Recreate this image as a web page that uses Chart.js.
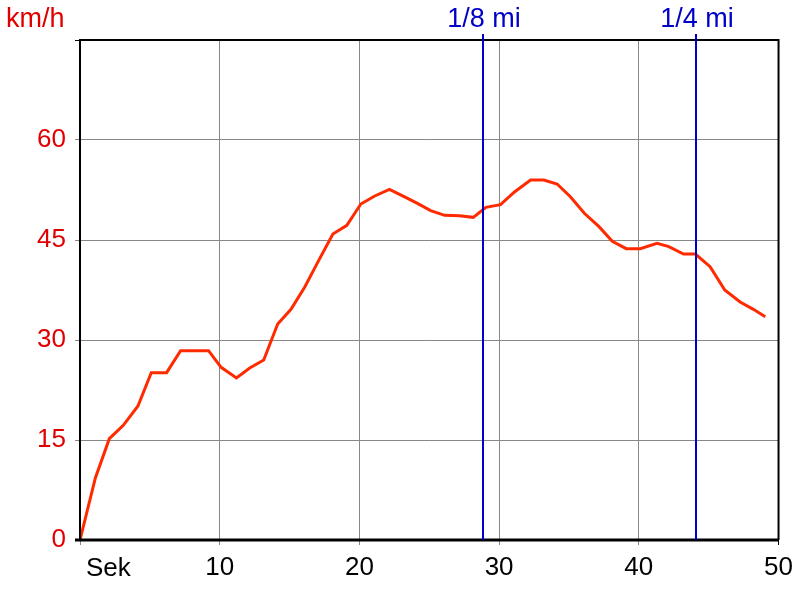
<!DOCTYPE html>
<html>
<head>
<meta charset="utf-8">
<script src="https://cdn.jsdelivr.net/npm/chart.js@4.4.0/dist/chart.umd.min.js"></script>
<style>
    html, body { margin: 0; padding: 0; background: #fff; }
    #wrap { width: 800px; height: 600px; }
</style>
</head>
<body>
<div id="wrap"><canvas id="myChart" width="800" height="600"></canvas></div>
<script>
// 時間 (秒) 與速度 (km/h)
var times = [0, 1.1, 2.1, 3.1, 4.15, 5.1, 6.2, 7.2, 8.2, 9.2,
    10.1, 11.2, 12.15, 13.15, 14.15, 15.1, 16.1, 17.05, 18.1, 19.1,
    20.1, 21.1, 22.15, 23.2, 24.15, 25.1, 26.1, 27.15, 28.15, 29.05,
    30.1, 31.1, 32.25, 33.2, 34.15, 35.1, 36.1, 37.15, 38.1, 39.1,
    40.1, 41.3, 42.15, 43.2, 44.05, 45.1, 46.15, 47.25, 48.2, 49.05];
var speeds = [0, 9.3, 15.2, 17.2, 20.1, 25.1, 25.1, 28.4, 28.4, 28.4,
    25.9, 24.3, 25.8, 27.0, 32.4, 34.6, 38.0, 41.8, 45.9, 47.2,
    50.4, 51.6, 52.6, 51.5, 50.5, 49.4, 48.7, 48.65, 48.4, 49.9,
    50.3, 52.2, 54.0, 54.0, 53.4, 51.5, 49.0, 47.0, 44.8, 43.7,
    43.7, 44.5, 44.0, 42.9, 42.9, 41.0, 37.5, 35.7, 34.6, 33.5];

// 距離標記
var mileTimes = [28.85, 44.07];
var mileLabels = ['1/8 mi', '1/4 mi'];

var xTicks = [0, 10, 20, 30, 40, 50];
var yTicks = [0, 15, 30, 45, 60, 75];
var yUnit = 'km/h';
var xUnit = 'Sek';

var FONT = '"Liberation Sans", Arial, sans-serif';

var points = times.map((t, i) => ({ x: t, y: speeds[i] }));

var overlay = {
    id: 'overlay',
    afterDatasetsDraw: function (chart) {
        var c = chart.ctx, a = chart.chartArea, xs = chart.scales.x;
        c.save();
        // 外框
        c.strokeStyle = '#000';
        c.lineWidth = 2;
        c.beginPath();
        c.moveTo(a.left, a.bottom);
        c.lineTo(a.left, a.top);
        c.lineTo(a.right, a.top);
        c.lineTo(a.right, a.bottom);
        c.stroke();
        c.lineWidth = 3;
        c.beginPath();
        c.moveTo(a.left - 5, a.bottom);
        c.lineTo(a.right, a.bottom);
        c.stroke();
        // 距離線
        c.strokeStyle = '#0000c8';
        c.lineWidth = 2;
        c.fillStyle = '#0000c8';
        c.font = '27px ' + FONT;
        c.textAlign = 'center';
        c.textBaseline = 'alphabetic';
        mileTimes.forEach((t, i) => {
            var px = Math.round(xs.getPixelForValue(t));
            c.beginPath();
            c.moveTo(px, a.top - 6);
            c.lineTo(px, a.bottom);
            c.stroke();
            c.fillText(mileLabels[i], px + 1, 27);
        });
        // 單位
        c.fillStyle = '#e00000';
        c.textAlign = 'left';
        c.fillText(yUnit, 6, 27);
        c.fillStyle = '#000';
        c.font = '26px ' + FONT;
        c.fillText(xUnit, a.left + 6, 576);
        c.restore();
    }
};

var ctx = document.getElementById('myChart').getContext('2d');
var myChart = new Chart(ctx, {
    type: 'line',
    data: {
        datasets: [{
            data: points,
            borderColor: '#ff2a00',
            borderWidth: 3,
            pointRadius: 0,
            tension: 0,
            fill: false
        }]
    },
    options: {
        responsive: false,
        animation: false,
        layout: { padding: { top: 40, right: 20, left: 0, bottom: 0 } },
        plugins: { legend: { display: false }, tooltip: { enabled: false } },
        scales: {
            x: {
                type: 'linear',
                min: 0,
                max: 50,
                afterBuildTicks: function (s) { s.ticks = xTicks.map(v => ({ value: v })); },
                afterFit: function (s) { s.height = 60; },
                ticks: {
                    color: '#000',
                    font: { size: 26, family: FONT },
                    padding: 7,
                    maxRotation: 0,
                    callback: function (v) { return v === 0 ? '' : v; }
                },
                grid: {
                    color: function (c) { return (c.tick && c.tick.value === 50) ? '#000' : '#888'; },
                    lineWidth: 1,
                    tickLength: 5
                },
                border: { display: true, color: '#000', width: 2 }
            },
            y: {
                min: 0,
                max: 75,
                afterBuildTicks: function (s) { s.ticks = yTicks.map(v => ({ value: v })); },
                afterFit: function (s) { s.width = 80; },
                ticks: {
                    color: '#e00000',
                    font: { size: 26, family: FONT },
                    padding: 9,
                    callback: function (v) { return v === 75 ? '' : v; }
                },
                grid: {
                    color: function (c) { return (c.tick && c.tick.value === 75) ? '#000' : '#888'; },
                    lineWidth: 1,
                    tickLength: 5
                },
                border: { display: true, color: '#000', width: 2 }
            }
        }
    },
    plugins: [overlay]
});
</script>
</body>
</html>
